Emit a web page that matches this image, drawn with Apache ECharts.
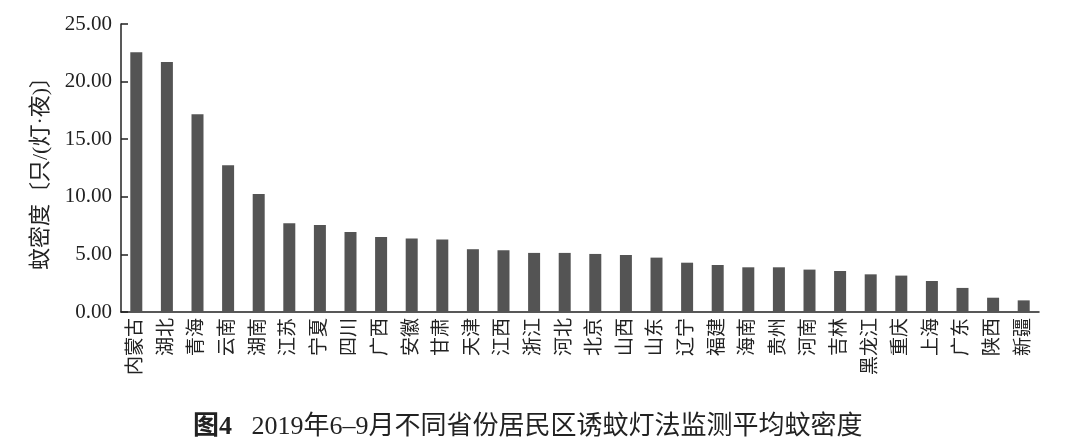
<!DOCTYPE html>
<html>
<head>
<meta charset="utf-8">
<script src="https://cdn.jsdelivr.net/npm/echarts@6/dist/echarts.min.js"></script>
<style>
html,body{margin:0;padding:0;background:#fff;}
#chart{width:1080px;height:446px;}
</style>
</head>
<body>
<div id="chart"></div>
<script>
const provinces = ['内蒙古','湖北','青海','云南','湖南','江苏','宁夏','四川','广西','安徽','甘肃','天津','江西','浙江','河北','北京','山西','山东','辽宁','福建','海南','贵州','河南','吉林','黑龙江','重庆','上海','广东','陕西','新疆'];
const density = [22.54,21.70,17.16,12.73,10.24,7.70,7.55,6.94,6.51,6.39,6.30,5.45,5.36,5.13,5.13,5.04,4.95,4.72,4.28,4.08,3.88,3.88,3.68,3.56,3.27,3.16,2.69,2.09,1.24,1.01];
const yTicks = [0,5,10,15,20,25];
const yAxisName = '蚊密度〔只/(灯·夜)〕';
const figLabel = '图4';
const figTitle = '2019年6–9月不同省份居民区诱蚊灯法监测平均蚊密度';

const serif = '"Liberation Serif", "Noto Sans CJK SC", serif';
const chart = echarts.init(document.getElementById('chart'));
chart.setOption({
  animation: false,
  backgroundColor: '#ffffff',
  title: {
    text: '{b|' + figLabel + '}{n|   ' + figTitle + '}',
    left: 188,
    top: 409,
    textStyle: {
      fontWeight: 'normal',
      rich: {
        b: {fontFamily: serif, fontSize: 26, fontWeight: 'bold', color: '#222'},
        n: {fontFamily: serif, fontSize: 26, fontWeight: 'normal', color: '#222'}
      }
    }
  },
  grid: {left: 121, right: 41, top: 24, bottom: 134, containLabel: false},
  xAxis: {
    type: 'category',
    data: provinces,
    axisLine: {lineStyle: {color: '#222', width: 1.5}},
    axisTick: {show: false},
    axisLabel: {
      rotate: 90, interval: 0, margin: 6,
      fontFamily: serif, fontSize: 19, color: '#222'
    }
  },
  yAxis: {
    type: 'value',
    min: yTicks[0], max: yTicks[yTicks.length - 1], interval: 5,
    name: yAxisName,
    nameLocation: 'middle',
    nameGap: 69,
    nameTextStyle: {fontFamily: serif, fontSize: 22, color: '#222'},
    axisLine: {show: true, lineStyle: {color: '#222', width: 1.5}},
    axisTick: {show: true, inside: true, length: 7, lineStyle: {color: '#222', width: 1.5}},
    splitLine: {show: false},
    axisLabel: {
      margin: 9,
      fontFamily: serif, fontSize: 21, color: '#222',
      formatter: v => v.toFixed(2)
    }
  },
  series: [{
    type: 'bar',
    data: density,
    barWidth: 12,
    itemStyle: {color: '#545454'}
  }]
});
</script>
</body>
</html>
